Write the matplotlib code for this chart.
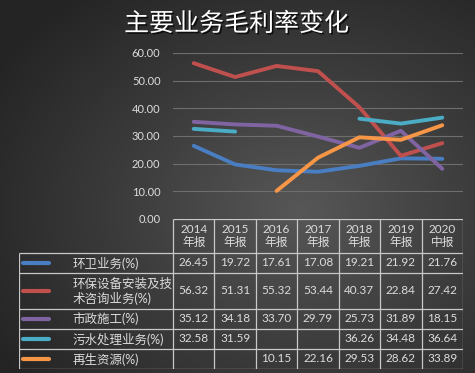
import numpy as np
import matplotlib
matplotlib.use('Agg')
import matplotlib.pyplot as plt
import matplotlib.patheffects as pe
from matplotlib.colors import LinearSegmentedColormap

nan = np.nan
periods = ['2014\n年报', '2015\n年报', '2016\n年报', '2017\n年报', '2018\n年报', '2019\n年报', '2020\n中报']
names = ['环卫业务(%)', '环保设备安装及技\n术咨询业务(%)', '市政施工(%)', '污水处理业务(%)', '再生资源(%)']
huanwei = [26.45, 19.72, 17.61, 17.08, 19.21, 21.92, 21.76]
shebei = [56.32, 51.31, 55.32, 53.44, 40.37, 22.84, 27.42]
shizheng = [35.12, 34.18, 33.70, 29.79, 25.73, 31.89, 18.15]
wushui = [32.58, 31.59, nan, nan, 36.26, 34.48, 36.64]
zaisheng = [nan, nan, 10.15, 22.16, 29.53, 28.62, 33.89]
series = [huanwei, shebei, shizheng, wushui, zaisheng]
colors = ['#4a7ec2', '#c0504d', '#8064a2', '#4bacc6', '#f79646']

W, H = 475, 373
fig = plt.figure(figsize=(W / 100, H / 100), dpi=100)

# dark radial background
bg = fig.add_axes([0, 0, 1, 1], zorder=-10)
yy, xx = np.mgrid[0:H, 0:W]
r = np.hypot((xx - 300) / W, (yy - 210) / H)
cm = LinearSegmentedColormap.from_list('bg', ['#575757', '#3c3c3c', '#242424'])
bg.imshow(r, cmap=cm, vmin=0, vmax=0.75, aspect='auto', extent=[0, 1, 0, 1])
bg.axis('off')

fam = ['Lato', 'Noto Sans CJK SC', 'DejaVu Sans']
txt = '#dcdcdc'

fig.text(0.498, 1 - 24 / H, '主要业务毛利率变化', ha='center', va='center',
         fontsize=18, color='white', family=['Noto Sans CJK SC'],
         path_effects=[pe.withSimplePatchShadow(offset=(1.2, -1.2), shadow_rgbFace='black', alpha=0.7)])

x = np.arange(len(periods))
ax = fig.add_axes([173 / W, 1 - 219 / H, 290 / W, 166 / H])
ax.set_facecolor('none')
for s, c in zip(series, colors):
    ax.plot(x, s, color=c, lw=2.8, solid_capstyle='round', solid_joinstyle='round')
ax.set_xlim(-0.5, 6.5)
ax.set_ylim(0, 60)
ticks = np.arange(0, 61, 10)
ax.set_yticks(ticks)
ax.set_yticklabels([f'{t:.2f}' for t in ticks], family=fam, fontsize=8, color=txt)
ax.set_xticks([])
ax.tick_params(axis='y', length=0, pad=9)
ax.grid(axis='y', color='#6e6e6e', lw=0.8)
for sp in ax.spines.values():
    sp.set_visible(False)

# data table below
tb = fig.add_axes([19 / W, 1 - 369 / H, 444 / W, 150 / H])
tb.set_facecolor('none')
xl = -0.5 - 154 / (290 / 7)
tb.set_xlim(xl, 6.5)
tb.set_ylim(150, 0)
tb.axis('off')
edges = [0, 34, 54, 90, 110, 130, 150]
lc = '#c8c8c8'
tb.hlines(0, -0.5, 6.5, color=lc, lw=0.9)
for e in edges[1:]:
    tb.hlines(e, xl, 6.5, color=lc, lw=0.9)
tb.vlines(xl, 34, 150, color=lc, lw=0.9)
for k in range(len(periods) + 1):
    tb.vlines(k - 0.5, 0, 150, color=lc, lw=0.9)
for i, p in enumerate(periods):
    tb.text(i, 17, p, ha='center', va='center', fontsize=8.5, color=txt, family=fam, linespacing=1.25)
for j, (nm, s, c) in enumerate(zip(names, series, colors)):
    mid = (edges[j + 1] + edges[j + 2]) / 2
    tb.plot([xl + 0.1, xl + 0.72], [mid, mid], color=c, lw=3, solid_capstyle='round')
    tb.text(xl + 1.3, mid, nm, ha='left', va='center', fontsize=9, color=txt, family=fam, linespacing=1.2)
    for i, v in enumerate(s):
        if not np.isnan(v):
            tb.text(i, mid, f'{v:.2f}', ha='center', va='center', fontsize=8.5, color=txt, family=fam)

fig.savefig('out.png', dpi=100)
